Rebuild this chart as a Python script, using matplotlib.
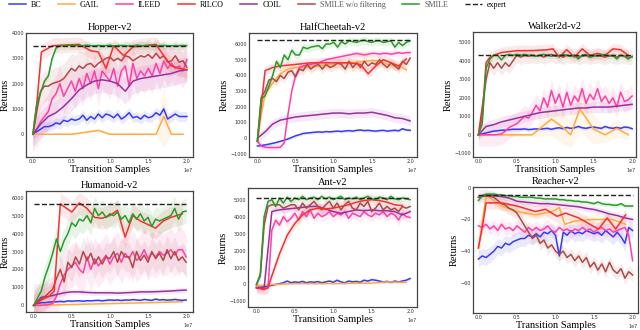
import matplotlib.pyplot as plt
import numpy as np

# ---------------- data (x in units of 1e7, returns) ----------------
step = 0.05  # dense series are logged every 0.05e7 samples

# Hopper-v2
hopper_bc = [0, 100, 200, 300, 300, 350, 450, 400, 550, 500, 600, 550, 600, 750, 550, 700, 600, 800, 650, 800,
             750, 650, 800, 600, 700, 850, 650, 700, 600, 750, 650, 700, 850, 750, 1000, 600, 700, 800, 700, 700, 700]
hopper_gail_x = [0, 0.5, 0.85, 1.0, 1.6, 1.7, 1.8, 1.95]
hopper_gail = [0, 0, 150, 0, 0, 700, 0, 0]
hopper_gail_std = [0, 30, 80, 30, 30, 1200, 30, 30]
hopper_ileed = [0, 200, 500, 700, 900, 1400, 1600, 2000, 1500, 1800, 2100, 1700, 2200, 1800, 2400, 2000, 2500, 1800,
                2500, 2300, 2100, 2600, 1900, 2500, 2700, 1900, 2800, 2200, 2500, 2300, 2600, 2300, 2800, 2400, 2900,
                2600, 2800, 2600, 2700, 2500, 2950]
hopper_rilco_x = [0, 0.05, 0.11, 0.26, 0.6, 0.75, 0.85, 0.95, 1.05, 1.18, 1.3, 1.45, 1.6, 1.7, 1.8, 1.9, 2.0]
hopper_rilco = [0, 1200, 3250, 3500, 3550, 3300, 3250, 2600, 3500, 3100, 3450, 3500, 3550, 3100, 2700, 2600, 2550]
hopper_coil = [0, 400, 700, 850, 1100, 1400, 1750, 1950, 2100, 2150, 2100, 2000, 1700, 2100, 2200, 2250, 2300, 2350,
               2400, 2500, 2550]
hopper_smile_wo = [0, 900, 1700, 1900, 1900, 2000, 2050, 2100, 2200, 2400, 2600, 2500, 2700, 2600, 2750, 2800, 2650,
                   2800, 2900, 3000, 3050, 2900, 3000, 2900, 3100, 3050, 2900, 3000, 3100, 3050, 3150, 3000, 3200,
                   3000, 3100, 2850, 2900, 3100, 2850, 2900, 2650]
hopper_smile = [0, 1200, 1650, 2100, 2300, 3000, 3400, 3500, 3480, 3520, 3500, 3510, 3490, 3500, 3520, 3500, 3490,
                3510, 3500, 3500, 3520, 3490, 3500, 3510, 3500, 3490, 3500, 3520, 3500, 3500, 3510, 3490, 3500, 3500,
                3510, 3500, 3500, 3500, 3500, 3510, 3500]
hopper_expert = 3500

# HalfCheetah-v2
cheetah_bc = [-500, -470, -430, -380, -330, -270, -200, -130, -50, 50, 150, 220, 300, 330, 350, 380, 400, 380, 420,
              400, 430, 450, 420, 460, 480, 450, 500, 520, 480, 500, 470, 450, 480, 500, 450, 480, 500, 470, 600, 520, 500]
cheetah_gail_x = [0, 0.05, 0.1, 0.2, 0.3, 0.4, 0.5, 0.6, 0.8, 1.0, 1.2, 1.4, 1.5, 1.6, 1.7, 1.8, 1.9, 1.95]
cheetah_gail = [-200, 1500, 2800, 3500, 4100, 4400, 4500, 4500, 4600, 4700, 4800, 4900, 4950, 4900, 4700, 4600,
                4500, 4350]
cheetah_gail_std = [100, 300, 300, 300, 300, 300, 300, 300, 300, 300, 500, 700, 400, 300, 300, 300, 300, 300]
cheetah_ileed = [-200, -500, -580, -600, -600, -600, -580, -300, 1500, 3000, 4000, 4500, 4600, 4650, 4700, 4750,
                 4800, 4900, 5000, 5050, 5100, 5150, 5200, 5250, 5300, 5350, 5400, 5350, 5300, 5350, 5400, 5400,
                 5350, 5400, 5400, 5350, 5400, 5450, 5400, 5450, 5450]
cheetah_rilco_x = [0, 0.1, 0.2, 0.3, 0.5, 0.7, 1.0, 1.2, 1.35, 1.45, 1.55, 1.65, 1.75, 1.85, 1.95]
cheetah_rilco = [-200, 4300, 4500, 4600, 4700, 4800, 4800, 4800, 4700, 4100, 4600, 5000, 4800, 4600, 5050]
cheetah_coil = [0, 400, 900, 1150, 1250, 1350, 1400, 1450, 1500, 1550, 1600, 1600, 1550, 1600, 1600, 1650, 1550,
                1450, 1300, 1250, 1100]
cheetah_smile_wo = [-200, 2600, 3000, 3700, 3800, 3600, 4000, 3800, 4200, 4300, 3900, 4400, 4300, 4700, 4400, 4600,
                    4700, 4400, 4700, 4500, 4600, 4800, 4700, 4400, 4900, 4500, 4800, 4500, 4900, 4600, 4800, 4700,
                    5000, 4700, 4500, 4800, 4600, 4400, 4900, 4700, 5100]
cheetah_smile = [-200, 2500, 2700, 3300, 4000, 4900, 4500, 5300, 5000, 5600, 5300, 5300, 5800, 5700, 5800, 5850,
                 5900, 5700, 6000, 6000, 6100, 5800, 6150, 6000, 6200, 6150, 6100, 6200, 6250, 6150, 6100, 6200,
                 6200, 6100, 6150, 6200, 5800, 6100, 5900, 6100, 6200]
cheetah_expert = 6250

# Walker2d-v2
walker_bc = [0, 50, 100, 150, 200, 220, 250, 250, 280, 300, 300, 300, 320, 280, 300, 320, 300, 330, 350, 300, 350,
             380, 330, 400, 350, 380, 450, 380, 350, 400, 420, 380, 350, 450, 380, 350, 400, 350, 420, 400, 330]
walker_gail_x = [0, 0.3, 0.7, 0.95, 1.1, 1.2, 1.32, 1.5, 1.65, 1.8, 1.95]
walker_gail = [0, 0, 0, 850, 400, 0, 1400, 300, 0, 350, 0]
walker_gail_std = [0, 50, 100, 900, 900, 700, 1200, 800, 400, 500, 300]
walker_ileed = [0, 0, 0, 0, 0, 20, 50, 200, 400, 500, 600, 800, 1000, 900, 1200, 1600, 1300, 2000, 1500, 2400, 1700,
                2200, 1500, 2300, 1600, 2100, 1800, 2500, 1700, 2200, 1900, 2500, 1800, 2100, 1700, 2000, 1500, 2300,
                1800, 1900, 2100]
walker_rilco_x = [0, 0.05, 0.1, 0.15, 0.2, 0.3, 0.5, 0.7, 0.9, 0.97, 1.05, 1.15, 1.25, 1.35, 1.45, 1.55, 1.65,
                  1.75, 1.85, 1.95]
walker_rilco = [0, 1000, 3900, 4200, 4300, 4450, 4550, 4550, 4600, 4650, 4200, 4600, 4200, 4650, 4300, 4400, 4300,
                4650, 4600, 4300]
walker_coil = [0, 450, 550, 700, 800, 900, 1000, 1100, 1200, 1250, 1300, 1350, 1400, 1450, 1450, 1500, 1500, 1500,
               1550, 1600, 1650]
walker_smile_wo = [0, 1500, 3000, 3900, 3600, 3900, 3600, 3900, 3700, 4000, 4300, 4200, 4300, 4250, 4300, 4250, 4300,
                   4200, 4300, 4350, 4250, 4300, 4200, 4300, 4250, 4300, 4200, 4250, 4300, 4200, 4250, 4300, 4250,
                   4200, 4300, 4250, 4200, 4300, 4250, 4200, 4200]
walker_smile = [0, 600, 3600, 4100, 4300, 4300, 4050, 4300, 4350, 4300, 4350, 4300, 4350, 4300, 4300, 4250, 4300,
                4350, 4300, 4250, 4300, 4250, 4350, 4300, 4250, 4300, 4100, 4300, 4350, 4200, 4300, 4250, 4300, 4350,
                4250, 4300, 4100, 4300, 4250, 4100, 4250]
walker_expert = 4300

# Humanoid-v2
humanoid_bc = [0, 100, 150, 150, 180, 200, 200, 220, 200, 250, 230, 250, 250, 230, 260, 250, 270, 280, 250, 280, 300,
               280, 300, 270, 300, 290, 320, 300, 280, 330, 300, 280, 350, 300, 320, 290, 300, 330, 300, 280, 300]
humanoid_gail_x = [0, 0.5, 1.0, 1.5, 1.95]
humanoid_gail = [0, 50, 100, 150, 200]
humanoid_gail_std = [20, 50, 50, 50, 50]
humanoid_ileed = [0, 0, 0, 20, 50, 100, 500, 1200, 1700, 2000, 2200, 2400, 2000, 1800, 2700, 2000, 2600, 2200, 2500,
                  2800, 2300, 2700, 2900, 2400, 2900, 2600, 3000, 2500, 2700, 3100, 2600, 2900, 2700, 3000, 2800, 2900,
                  3100, 2800, 3100, 3100, 2700]
humanoid_rilco_x = [0, 0.1, 0.2, 0.27, 0.35, 0.5, 0.6, 0.7, 0.8, 0.9, 1.0, 1.1, 1.2, 1.3, 1.4, 1.5, 1.6, 1.7, 1.8,
                    1.95]
humanoid_rilco = [0, 300, 500, 800, 5650, 5200, 5700, 5400, 4900, 4850, 5000, 5300, 3800, 5000, 4700, 4500, 4300,
                  4700, 4900, 5100]
humanoid_coil = [0, 450, 500, 600, 700, 750, 750, 720, 700, 700, 700, 680, 700, 720, 750, 750, 760, 780, 800, 830, 850]
humanoid_smile_wo = [0, 200, 350, 500, 700, 900, 1500, 2000, 1300, 2400, 2100, 2700, 2300, 3000, 2500, 2900, 2300,
                     2700, 2300, 2700, 2600, 3000, 2400, 3000, 2700, 2700, 2100, 3000, 2500, 2800, 2400, 3000, 2600,
                     2900, 2500, 3100, 2600, 3000, 2500, 2700, 2400]
humanoid_smile = [0, 400, 800, 1600, 2200, 2900, 3700, 3000, 3600, 4000, 4600, 4400, 4800, 4700, 5000, 4600, 5400,
                  5000, 5200, 4900, 5100, 5000, 5200, 4800, 5000, 4600, 5100, 4800, 5100, 4700, 4900, 4400, 4800, 4700,
                  4800, 4900, 5000, 5400, 4800, 5200, 5250]
humanoid_expert = 5650

# Ant-v2
ant_bc = [-100, -150, -150, -100, -50, 0, 50, 100, 200, 100, 150, 120, 180, 100, 150, 130, 170, 100, 150, 200, 130,
          250, 150, 100, 200, 150, 180, 130, 250, 200, 280, 250, 200, 150, 180, 120, 200, 150, 200, 250, 350]
ant_gail_x = [0, 0.1, 0.2, 0.5, 1.0, 1.5, 1.7, 1.95]
ant_gail = [-100, -50, 0, 50, 50, 80, 150, 120]
ant_gail_std = [60, 60, 60, 60, 60, 60, 60, 60]
ant_ileed = [-200, -220, -250, -200, 3200, 3800, 3500, 4000, 3700, 3900, 4200, 3800, 4300, 4000, 4400, 3900, 4200,
             4000, 4100, 4300, 4000, 4200, 4100, 4300, 3900, 4200, 4100, 4000, 4300, 4100, 4000, 4200, 4100, 4300,
             4000, 4200, 4100, 3800, 4200, 4000, 3950]
ant_rilco_x = [0, 0.05, 0.1, 0.15, 0.2, 0.3, 0.4, 0.5, 0.6, 0.7, 0.8, 0.9, 1.0, 1.1, 1.2, 1.3, 1.4, 1.5, 1.6, 1.7,
               1.8, 1.9]
ant_rilco = [-200, -250, -300, -200, 500, 1800, 2900, 3600, 4100, 4400, 4500, 4450, 4500, 4600, 4700, 4850, 4950,
             5000, 4950, 4850, 4700, 4650]
ant_coil = [-200, -200, 4300, 4400, 4450, 4500, 4550, 4600, 4600, 4450, 4300, 4200, 4300, 4400, 4350, 4400, 4350,
            4350, 4300, 4100, 4300]
ant_smile_wo = [0, 500, 3500, 4600, 4700, 4700, 4700, 4500, 4600, 4700, 4700, 4400, 4800, 4500, 4700, 4900, 4600,
                4400, 4700, 4900, 4500, 4800, 4400, 4700, 4900, 4500, 4400, 4800, 4600, 4900, 4300, 4500, 4800, 4400,
                4600, 4400, 4500, 4300, 4600, 4500, 4600]
ant_smile = [0, 600, 4000, 4900, 5000, 4600, 5100, 4800, 5150, 4900, 5100, 5000, 5200, 5000, 5100, 5150, 5000, 5200,
             5050, 5150, 5000, 5100, 5200, 5000, 5100, 5050, 5150, 5000, 5100, 5200, 5050, 5000, 5150, 5100, 5000,
             5200, 5050, 5000, 5100, 5050, 5000]
ant_expert = 5120

# Reacher-v2
reacher_bc = [-45, -43, -44, -42, -40, -37, -38, -35, -36, -34, -33, -32, -32, -30, -31, -29, -31, -28, -29, -27,
              -30, -43, -28, -30, -27, -29, -28, -29, -27, -28, -29, -28, -30, -27, -29, -31, -28, -31, -35, -25, -27]
reacher_gail_x = [0, 0.1, 0.17, 0.3, 0.5, 0.74, 0.96, 1.05, 1.12, 1.25, 1.48, 1.74, 1.91]
reacher_gail = [-38, -5, -7, -11.5, -15, -17, -15, -12.5, -23, -21, -20, -20, -23]
reacher_gail_std = [8, 3, 3, 3, 3, 3, 3, 3, 3, 3, 3, 3, 3]
reacher_ileed = [-24, -25, -23, -26, -24, -27, -23, -26, -25, -27, -24, -26, -28, -25, -27, -25, -27, -26, -24, -27,
                 -28, -25, -27, -26, -28, -26, -27, -25, -27, -26, -28, -26, -25, -27, -26, -28, -27, -26, -25, -30, -46]
reacher_rilco_x = [0, 0.05, 0.1, 0.3, 0.5, 0.74, 0.87, 1.02, 1.13, 1.3, 1.5, 1.56, 1.67, 1.78, 1.91]
reacher_rilco = [-38, -25, -9.5, -9.5, -11.5, -15, -13.5, -18, -16, -19, -24.5, -26, -19, -26, -17]
reacher_coil = [-6, -5, -5, -5.5, -6.5, -8.5, -9, -9.5, -10, -10, -10.5, -11, -11.5, -12, -13, -13.7, -15, -16.5,
                -17.5, -19, -20]
reacher_smile_wo = [-6, -5, -5, -5.5, -6, -8, -10, -11, -13, -14, -16, -20, -24, -28, -32, -30, -35, -33, -38, -36,
                    -40, -42, -40, -44, -42, -46, -43, -47, -44, -50, -47, -52, -48, -53, -47, -52, -54, -51, -57,
                    -53, -55]
reacher_smile = [-8, -5, -4, -4, -4, -4.5, -4.5, -5, -5, -5.5, -5.5, -6, -6, -6, -6, -6.5, -6.5, -7, -7, -7, -7,
                 -7.5, -7.5, -8, -8, -8.5, -8.5, -9, -9, -9.5, -10, -9, -10, -10.5, -10.5, -11, -11, -10, -11.5,
                 -11.5, -11.5]
reacher_expert = -4.7

# spread of the shaded bands (roughly read off)
band_hopper = {'BC': 200, 'ILEED': 700, 'RILCO': 300, 'COIL': 500, 'SMILE w/o filtering': 600, 'SMILE': 150}
band_cheetah = {'BC': 100, 'ILEED': 200, 'RILCO': 300, 'COIL': 300, 'SMILE w/o filtering': 300, 'SMILE': 250}
band_walker = {'BC': 100, 'ILEED': 600, 'RILCO': 300, 'COIL': 300, 'SMILE w/o filtering': 400, 'SMILE': 150}
band_humanoid = {'BC': 80, 'ILEED': 1200, 'RILCO': 600, 'COIL': 150, 'SMILE w/o filtering': 800, 'SMILE': 700}
band_ant = {'BC': 100, 'ILEED': 300, 'RILCO': 300, 'COIL': 200, 'SMILE w/o filtering': 300, 'SMILE': 200}
band_reacher = {'BC': 5, 'ILEED': 4, 'RILCO': 4, 'COIL': 2, 'SMILE w/o filtering': 4, 'SMILE': 1.5}

# ---------------- style ----------------
names = ['BC', 'GAIL', 'ILEED', 'RILCO', 'COIL', 'SMILE w/o filtering', 'SMILE']
colors = {'BC': '#3a3af5', 'GAIL': '#ffab3d', 'ILEED': '#ff3fa6', 'RILCO': '#f53030',
          'COIL': '#9a2fa0', 'SMILE w/o filtering': '#b04848', 'SMILE': '#2a9a2a'}
serif = 'Liberation Serif'

panels = [
    ('Hopper-v2', hopper_bc, (hopper_gail_x, hopper_gail, hopper_gail_std), hopper_ileed,
     (hopper_rilco_x, hopper_rilco), hopper_coil, hopper_smile_wo, hopper_smile, hopper_expert, band_hopper,
     (26, 33, 193, 157), (-0.09, 2.08), (-900, 4000), range(0, 4001, 1000)),
    ('HalfCheetah-v2', cheetah_bc, (cheetah_gail_x, cheetah_gail, cheetah_gail_std), cheetah_ileed,
     (cheetah_rilco_x, cheetah_rilco), cheetah_coil, cheetah_smile_wo, cheetah_smile, cheetah_expert, band_cheetah,
     (249, 33, 417, 157), (-0.11, 2.09), (-1200, 6700), range(-1000, 6001, 1000)),
    ('Walker2d-v2', walker_bc, (walker_gail_x, walker_gail, walker_gail_std), walker_ileed,
     (walker_rilco_x, walker_rilco), walker_coil, walker_smile_wo, walker_smile, walker_expert, band_walker,
     (473, 32, 636, 157), (-0.07, 2.05), (-1200, 5560), range(-1000, 5001, 1000)),
    ('Humanoid-v2', humanoid_bc, (humanoid_gail_x, humanoid_gail, humanoid_gail_std), humanoid_ileed,
     (humanoid_rilco_x, humanoid_rilco), humanoid_coil, humanoid_smile_wo, humanoid_smile, humanoid_expert,
     band_humanoid, (26, 191, 193, 312), (-0.1, 2.09), (-370, 6370), range(0, 6001, 1000)),
    ('Ant-v2', ant_bc, (ant_gail_x, ant_gail, ant_gail_std), ant_ileed, (ant_rilco_x, ant_rilco), ant_coil,
     ant_smile_wo, ant_smile, ant_expert, band_ant, (248, 188, 417, 307), (-0.11, 2.09), (-1330, 5690),
     range(-1000, 5001, 1000)),
    ('Reacher-v2', reacher_bc, (reacher_gail_x, reacher_gail, reacher_gail_std), reacher_ileed,
     (reacher_rilco_x, reacher_rilco), reacher_coil, reacher_smile_wo, reacher_smile, reacher_expert, band_reacher,
     (473, 187, 638, 313), (-0.07, 2.07), (-79, 0.5), range(-60, 1, 20)),
]

W, H = 640, 330
fig = plt.figure(figsize=(W / 100, H / 100), dpi=100)


def draw(ax, x, y, std, name):
    x = np.asarray(x) * 1e7
    y = np.asarray(y, dtype=float)
    std = np.asarray(std, dtype=float)
    ax.fill_between(x, y - std, y + std, color=colors[name], alpha=0.1, lw=0)
    return ax.plot(x, y, color=colors[name], lw=1.1, label=name)[0]


handles = {}
for (title, bc, gail, ileed, rilco, coil, smile_wo, smile, expert, band,
     box, xlim, ylim, yticks) in panels:
    x0, y0, x1, y1 = box
    ax = fig.add_axes([x0 / W, 1 - y1 / H, (x1 - x0) / W, (y1 - y0) / H])

    dense = lambda v: np.arange(len(v)) * step
    handles['BC'] = draw(ax, dense(bc), bc, band['BC'], 'BC')
    handles['GAIL'] = draw(ax, gail[0], gail[1], gail[2], 'GAIL')
    handles['ILEED'] = draw(ax, dense(ileed), ileed, band['ILEED'], 'ILEED')
    handles['COIL'] = draw(ax, np.arange(len(coil)) * 0.1, coil, band['COIL'], 'COIL')
    handles['SMILE w/o filtering'] = draw(ax, dense(smile_wo), smile_wo, band['SMILE w/o filtering'],
                                          'SMILE w/o filtering')
    handles['RILCO'] = draw(ax, rilco[0], rilco[1], band['RILCO'], 'RILCO')
    handles['SMILE'] = draw(ax, dense(smile), smile, band['SMILE'], 'SMILE')
    handles['expert'] = ax.plot([0, 2e7], [expert, expert], color='#222222', lw=1.0, ls='--', label='expert')[0]

    ax.set_xlim(xlim[0] * 1e7, xlim[1] * 1e7)
    ax.set_ylim(*ylim)
    ax.set_xticks([0, 0.5e7, 1e7, 1.5e7, 2e7])
    ax.set_yticks(list(yticks))
    ax.tick_params(length=0, labelsize=3.5, pad=1.5, colors='#333333')
    ax.xaxis.get_offset_text().set_fontsize(3.5)
    for s in ax.spines.values():
        s.set_color('#444444')
        s.set_linewidth(0.9)
    ax.set_title(title, fontsize=7.5, family=serif, pad=2.5)
    ax.set_xlabel('Transition Samples', fontsize=7.5, family=serif, labelpad=0.5)
    ax.set_ylabel('Returns', fontsize=7.5, family=serif, labelpad=1)

order = names + ['expert']
leg = fig.legend([handles[n] for n in order], order, loc='upper left', ncol=8, frameon=False,
                 bbox_to_anchor=(0.012, 1.0), borderaxespad=0, borderpad=0.15,
                 prop={'family': serif, 'size': 5.8},
                 handlelength=2.1, handletextpad=0.6, columnspacing=2.1)
for t in leg.get_texts()[5:7]:
    t.set_color('#555555')

fig.savefig('out.png', dpi=100)
